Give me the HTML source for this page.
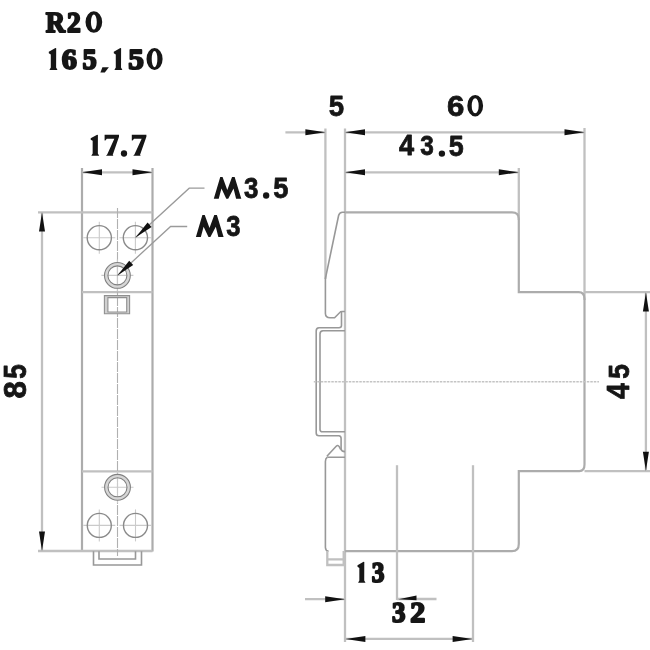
<!DOCTYPE html>
<html><head><meta charset="utf-8"><style>
html,body{margin:0;padding:0;background:#fff;width:650px;height:650px;overflow:hidden}
svg{display:block;will-change:transform}
line,path,circle{fill:none}
.a{stroke:#acacac;stroke-width:2.2}
.e{stroke:#c0c0c0;stroke-width:2.3}
.c{stroke:#8a8a8a;stroke-width:1.4}
.c2{stroke:#808080;stroke-width:1.1}
.ann{stroke:#d6d6d6;stroke-width:3.0}
.x{stroke:#cacaca;stroke-width:1.1}
.cl{stroke:#b0b0b0;stroke-width:1.1;stroke-dasharray:10 1}
.cl2{stroke:#c4c4c4;stroke-width:1.4;stroke-dasharray:2.5 1}
.l{stroke:#9a9a9a;stroke-width:1.3}
.t{stroke:#989898;stroke-width:1.6}
.rf{fill:#d0d0d0;fill-rule:evenodd;stroke:#909090;stroke-width:1.1}
.ar{fill:#111}
.sf{font-family:"Liberation Serif",serif;font-weight:bold;fill:#161616;stroke:#161616;stroke-width:2.0;stroke-linejoin:round}
.ss{font-family:"Liberation Sans",sans-serif;font-weight:bold;fill:#161616;stroke:#161616;stroke-width:0.8;stroke-linejoin:round}
.dot{fill:#161616;stroke:none}
</style></head><body>
<svg width="650" height="650" viewBox="0 0 650 650">
<rect width="650" height="650" fill="#fff"/>
<line x1="82" y1="168" x2="82" y2="551.5" class="a"/>
<line x1="152.5" y1="168" x2="152.5" y2="551.5" class="a"/>
<line x1="38" y1="212.3" x2="152.5" y2="212.3" class="e"/>
<line x1="38" y1="551" x2="152.5" y2="551" class="e"/>
<line x1="82" y1="292.2" x2="152.5" y2="292.2" class="e"/>
<line x1="82" y1="471.3" x2="152.5" y2="471.3" class="e"/>
<line x1="82" y1="172.3" x2="152.5" y2="172.3" class="e"/>
<line x1="42" y1="212.3" x2="42" y2="551" class="e"/>
<line x1="117.5" y1="208" x2="117.5" y2="556" class="cl"/>
<line x1="83.3" y1="237.7" x2="115.3" y2="237.7" class="x"/>
<line x1="99.3" y1="221.7" x2="99.3" y2="253.7" class="x"/>
<circle cx="99.3" cy="237.7" r="12.1" class="c"/>
<line x1="119.4" y1="237.7" x2="151.4" y2="237.7" class="x"/>
<line x1="135.4" y1="221.7" x2="135.4" y2="253.7" class="x"/>
<circle cx="135.4" cy="237.7" r="12.1" class="c"/>
<line x1="83.3" y1="525.4" x2="115.3" y2="525.4" class="x"/>
<line x1="99.3" y1="509.4" x2="99.3" y2="541.4" class="x"/>
<circle cx="99.3" cy="525.4" r="12.0" class="c"/>
<line x1="119.5" y1="525.4" x2="151.5" y2="525.4" class="x"/>
<line x1="135.5" y1="509.4" x2="135.5" y2="541.4" class="x"/>
<circle cx="135.5" cy="525.4" r="12.0" class="c"/>
<line x1="101.4" y1="275.4" x2="133.4" y2="275.4" class="x"/>
<line x1="117.4" y1="259.4" x2="117.4" y2="291.4" class="x"/>
<circle cx="117.4" cy="275.4" r="11.2" class="ann"/>
<circle cx="117.4" cy="275.4" r="12.9" class="c2"/>
<circle cx="117.4" cy="275.4" r="9.5" class="c2"/>
<line x1="101.5" y1="487.3" x2="133.5" y2="487.3" class="x"/>
<line x1="117.5" y1="471.3" x2="117.5" y2="503.3" class="x"/>
<circle cx="117.5" cy="487.3" r="11.2" class="ann"/>
<circle cx="117.5" cy="487.3" r="12.9" class="c2"/>
<circle cx="117.5" cy="487.3" r="9.5" class="c2"/>
<path d="M104.4,295.6 H129.6 V313.7 H104.4 Z M107.9,297.6 V312 H126.7 V297.6 Z" class="rf"/>
<path d="M93.5,551.2 L93.5,565 L141.5,565 L141.5,551.2" class="t"/>
<path d="M99,551.2 L99,559 L135.5,559 L135.5,551.2" class="t"/>
<path d="M135.5,237.4 L189.2,188.2 L204.5,188.2" class="l"/>
<path d="M117.4,275.4 L170.6,226.5 L187.2,226.5" class="l"/>
<line x1="325.4" y1="128.5" x2="325.4" y2="279" class="e"/>
<line x1="345" y1="128.5" x2="345" y2="642" class="e"/>
<line x1="518.8" y1="168" x2="518.8" y2="220" class="e"/>
<line x1="584.5" y1="128" x2="584.5" y2="300" class="e"/>
<line x1="285.4" y1="132.3" x2="325.4" y2="132.3" class="e"/>
<line x1="345" y1="132.3" x2="584.5" y2="132.3" class="e"/>
<line x1="345" y1="172.3" x2="518.8" y2="172.3" class="e"/>
<path d="M345,212.3 L512,212.3 Q518.8,212.3 518.8,218.7 L518.8,292.2 L578.7,292.2 Q584.5,292.2 584.5,299 L584.5,464.6 Q584.5,471.1 579.4,471.1 L518.8,471.1 L518.8,544 Q518.8,551.2 512,551.2 L345,551.2" class="a"/>
<line x1="584.5" y1="292.2" x2="650" y2="292.2" class="e"/>
<line x1="584.5" y1="471.1" x2="650" y2="471.1" class="e"/>
<line x1="645.9" y1="292.2" x2="645.9" y2="471.1" class="e"/>
<path d="M345,212.3 L342.5,212.3 Q339.5,212.5 338.6,215.5 L325.4,278.5 L325.4,313.5 Q325.5,317.7 330,317.7 L334.6,317.7 L340.5,311.8 Q341.2,311.5 342,311.5 L345,311.5" class="t"/>
<path d="M341.5,312 L341.5,325.5 Q341.5,327.7 339,327.7 L319,327.7 Q316.2,327.7 316.2,331 L316.2,433 Q316.2,435.7 319,435.7 L338.8,435.7 Q341.1,435.9 341.1,438.5 L341.1,448.6 Q341.3,451.6 345,451.6" class="t"/>
<path d="M345,330.8 L323,330.8 Q320,330.9 320,334 L320,429.5 Q320,431.8 322.5,431.8 L345,431.8" class="t"/>
<path d="M345,457.2 L327.3,457.2 M326.9,456.2 L336.2,446.3 Q337.8,444.6 339.2,446.6 L340.8,449.6" class="t"/>
<path d="M327.3,457.2 Q325.4,458.3 325.4,461.5 L325.4,547.5 Q325.6,550.9 328.5,551.1" class="t"/>
<path d="M327.3,551 V565 H343.7 V551 M327.3,559.3 H343.7" class="e"/>
<line x1="313.8" y1="381.7" x2="599" y2="381.7" class="cl2"/>
<line x1="397" y1="465.2" x2="397" y2="600" class="e"/>
<line x1="473" y1="465.2" x2="473" y2="642" class="e"/>
<line x1="305" y1="599.2" x2="345" y2="599.2" class="e"/>
<line x1="397" y1="599.0" x2="436.5" y2="599.0" class="e"/>
<line x1="345" y1="638.9" x2="473" y2="638.9" class="e"/>
<polygon points="82.00,172.30 102.00,169.30 102.00,175.30" class="ar"/>
<polygon points="152.50,172.30 132.50,175.30 132.50,169.30" class="ar"/>
<polygon points="42.00,212.30 45.00,231.50 39.00,231.50" class="ar"/>
<polygon points="42.00,551.00 39.00,531.50 45.00,531.50" class="ar"/>
<polygon points="135.50,237.40 147.59,222.47 151.61,226.93" class="ar"/>
<polygon points="117.40,275.40 129.19,260.68 133.21,265.12" class="ar"/>
<polygon points="325.40,132.30 305.40,135.30 305.40,129.30" class="ar"/>
<polygon points="345.00,132.30 365.00,129.30 365.00,135.30" class="ar"/>
<polygon points="584.50,132.30 564.50,135.30 564.50,129.30" class="ar"/>
<polygon points="345.00,172.30 365.00,169.30 365.00,175.30" class="ar"/>
<polygon points="518.80,172.30 498.80,175.30 498.80,169.30" class="ar"/>
<polygon points="645.90,292.20 648.90,311.50 642.90,311.50" class="ar"/>
<polygon points="645.90,471.10 642.90,451.80 648.90,451.80" class="ar"/>
<polygon points="345.00,599.20 325.20,602.20 325.20,596.20" class="ar"/>
<polygon points="398.5,599.2 416.5,595.6 416.5,600.2" class="ar"/>
<polygon points="345.50,638.90 365.40,635.90 365.40,641.90" class="ar"/>
<polygon points="472.50,638.90 452.60,641.90 452.60,635.90" class="ar"/>
<text x="45.65" y="31.85" class="sf" font-size="29.88" textLength="19.35" lengthAdjust="spacingAndGlyphs">R</text>
<text x="67.10" y="31.85" class="sf" font-size="29.56" textLength="13.80" lengthAdjust="spacingAndGlyphs">2</text>
<path d="M85.50,22.05 a8.35,10.75 0 1,0 16.70,0 a8.35,10.75 0 1,0 -16.70,0 Z M90.93,22.05 a2.92,7.52 0 1,0 5.85,0 a2.92,7.52 0 1,0 -5.85,0 Z" class="dot" fill-rule="evenodd"/>
<polygon points="48.80,51.82 55.41,48.10 56.20,48.32 56.11,67.59 57.50,70.00 49.41,70.00 50.80,67.59 50.80,54.45 48.80,53.36" class="dot"/>
<text x="61.65" y="68.75" class="sf" font-size="29.67" textLength="15.15" lengthAdjust="spacingAndGlyphs">6</text>
<text x="82.60" y="68.75" class="sf" font-size="29.99" textLength="14.25" lengthAdjust="spacingAndGlyphs">5</text>
<polygon points="102.4,67.2 108.9,67.2 104.8,72.6 100.4,72.6" class="dot"/>
<polygon points="113.80,51.82 120.34,48.10 121.11,48.32 121.02,67.59 122.40,70.00 114.40,70.00 115.78,67.59 115.78,54.45 113.80,53.36" class="dot"/>
<text x="128.25" y="68.75" class="sf" font-size="29.99" textLength="15.65" lengthAdjust="spacingAndGlyphs">5</text>
<path d="M146.50,59.05 a8.05,10.95 0 1,0 16.10,0 a8.05,10.95 0 1,0 -16.10,0 Z M151.73,59.05 a2.82,7.66 0 1,0 5.63,0 a2.82,7.66 0 1,0 -5.63,0 Z" class="dot" fill-rule="evenodd"/>
<polygon points="90.70,138.35 97.16,134.80 97.92,135.01 97.84,153.40 99.20,155.70 91.30,155.70 92.66,153.40 92.66,140.86 90.70,139.82" class="dot"/>
<polygon points="104.60,134.80 119.00,134.80 119.00,136.81 112.75,154.80 113.34,155.70 106.00,155.70 107.18,154.59 114.33,138.79 106.79,138.79 105.39,140.40 104.60,140.40" class="dot"/>
<circle cx="124.00" cy="153.50" r="3.15" class="dot"/>
<polygon points="131.80,134.80 146.40,134.80 146.40,136.81 140.06,154.80 140.66,155.70 133.22,155.70 134.41,154.59 141.67,138.79 134.02,138.79 132.60,140.40 131.80,140.40" class="dot"/>
<polygon points="357.50,565.37 363.58,561.80 364.30,562.01 364.22,580.49 365.50,582.80 358.06,582.80 359.34,580.49 359.34,567.89 357.50,566.84" class="dot"/>
<text x="371.65" y="581.60" class="sf" font-size="28.51" textLength="12.70" lengthAdjust="spacingAndGlyphs">3</text>
<text x="392.00" y="621.75" class="sf" font-size="28.72" textLength="13.50" lengthAdjust="spacingAndGlyphs">3</text>
<text x="410.30" y="622.00" class="sf" font-size="29.04" textLength="15.00" lengthAdjust="spacingAndGlyphs">2</text>
<polygon points="213.80,198.70 220.24,177.00 222.57,177.00 227.30,190.00 232.03,177.00 234.65,177.00 241.30,198.70 236.08,198.70 233.55,188.61 228.21,198.70 226.29,198.70 221.45,188.61 218.72,198.70" class="dot"/>
<text x="244.10" y="197.90" class="ss" font-size="29.47" textLength="14.40" lengthAdjust="spacingAndGlyphs">3</text>
<circle cx="266.15" cy="195.50" r="3.17" class="dot"/>
<text x="273.15" y="197.90" class="ss" font-size="29.76" textLength="15.15" lengthAdjust="spacingAndGlyphs">5</text>
<polygon points="195.90,236.90 202.38,214.90 204.74,214.90 209.50,228.08 214.27,214.90 216.90,214.90 223.60,236.90 218.34,236.90 215.79,226.67 210.41,236.90 208.48,236.90 203.60,226.67 200.86,236.90" class="dot"/>
<text x="226.20" y="236.05" class="ss" font-size="29.97" textLength="14.30" lengthAdjust="spacingAndGlyphs">3</text>
<text x="328.80" y="115.95" class="ss" font-size="30.34" textLength="15.35" lengthAdjust="spacingAndGlyphs">5</text>
<text x="446.90" y="115.75" class="ss" font-size="29.17" textLength="17.35" lengthAdjust="spacingAndGlyphs">6</text>
<path d="M467.30,105.70 a7.90,10.80 0 1,0 15.80,0 a7.90,10.80 0 1,0 -15.80,0 Z M471.72,105.70 a3.48,7.13 0 1,0 6.95,0 a3.48,7.13 0 1,0 -6.95,0 Z" class="dot" fill-rule="evenodd"/>
<text x="399.00" y="155.40" class="ss" font-size="28.80" textLength="15.10" lengthAdjust="spacingAndGlyphs">4</text>
<text x="420.30" y="155.05" class="ss" font-size="27.48" textLength="13.55" lengthAdjust="spacingAndGlyphs">3</text>
<circle cx="441.90" cy="153.55" r="3.17" class="dot"/>
<text x="448.70" y="155.60" class="ss" font-size="29.33" textLength="14.95" lengthAdjust="spacingAndGlyphs">5</text>
<text transform="translate(628.55,378.65) rotate(-90)" class="ss" font-size="30.29" textLength="14.60" lengthAdjust="spacingAndGlyphs">5</text>
<text transform="translate(628.80,399.00) rotate(-90)" class="ss" font-size="30.61" textLength="15.90" lengthAdjust="spacingAndGlyphs">4</text>
<text transform="translate(25.75,378.65) rotate(-90)" class="ss" font-size="31.30" textLength="14.60" lengthAdjust="spacingAndGlyphs">5</text>
<text transform="translate(25.75,398.50) rotate(-90)" class="ss" font-size="30.64" textLength="17.35" lengthAdjust="spacingAndGlyphs">8</text>
</svg></body></html>
